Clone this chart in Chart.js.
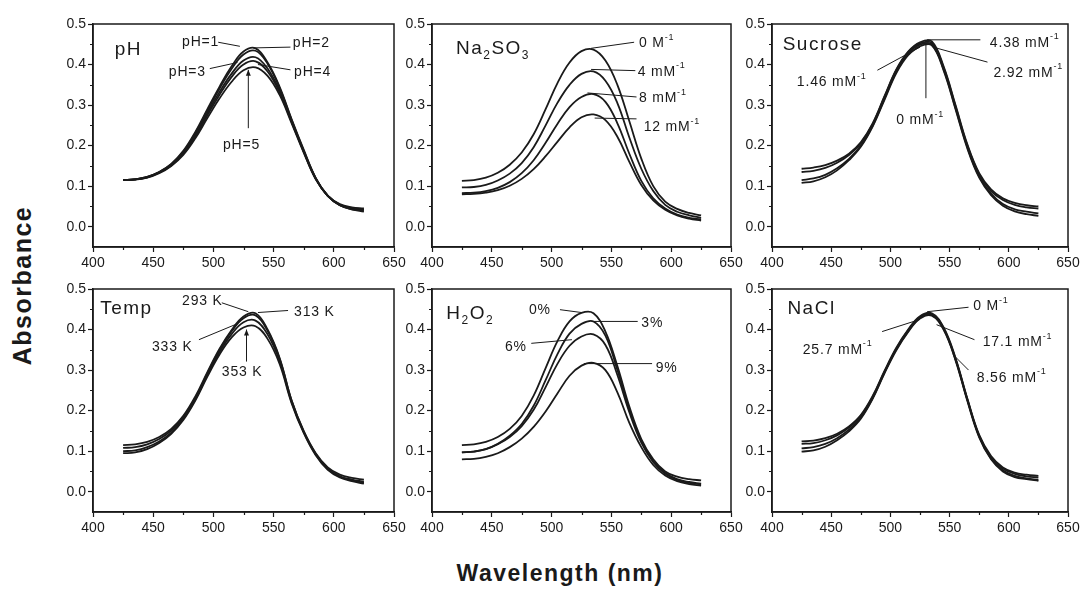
<!DOCTYPE html>
<html>
<head>
<meta charset="utf-8">
<title>Absorbance spectra</title>
<script src="https://cdn.jsdelivr.net/npm/chart.js@4.4.1/dist/chart.umd.min.js"></script>
<style>
  html, body { margin: 0; padding: 0; background: #fff; }
  #wrap { position: relative; width: 1085px; height: 589px; overflow: hidden; font-family: "Liberation Sans", Arial, sans-serif; color: #1a1a1a; }
  canvas { position: absolute; }
  .axis-title { position: absolute; font-weight: bold; white-space: nowrap; letter-spacing: 1.5px; }
  #ytitle { font-size: 25px; line-height: 25px; width: 200px; text-align: center; left: -78px; top: 272.5px; transform: rotate(-90deg); }
  #xtitle { font-size: 23px; line-height: 23px; left: 560px; top: 562px; transform: translateX(-50%); }
</style>
</head>
<body>
<div id="wrap">
  <div id="ytitle" class="axis-title">Absorbance</div>
  <div id="xtitle" class="axis-title">Wavelength (nm)</div>
</div>
<script>
// shared axis
const wavelengths = [425, 435, 445, 455, 465, 475, 485, 495, 505, 515, 525, 535, 545, 555, 565, 575, 585, 595, 605, 615, 625]
const xTickLabels = [400, 450, 500, 550, 600, 650]
const yTickLabels = [0.0, 0.1, 0.2, 0.3, 0.4, 0.5]

// pH
const pH1 = [.115, .117, .123, .135, .155, .187, .234, .290, .345, .395, .432, .440, .405, .345, .265, .190, .120, .076, .053, .043, .037]
const pH2 = [.115, .117, .123, .135, .154, .185, .231, .286, .340, .389, .425, .434, .402, .342, .263, .188, .120, .076, .053, .043, .040]
const pH3 = [.115, .117, .122, .134, .152, .182, .226, .280, .332, .377, .410, .418, .390, .335, .260, .186, .119, .076, .054, .045, .042]
const pH4 = [.115, .117, .122, .133, .151, .180, .222, .275, .325, .369, .400, .408, .383, .331, .258, .185, .118, .076, .054, .046, .043]
const pH5 = [.115, .116, .121, .132, .150, .177, .218, .268, .316, .357, .386, .393, .372, .325, .255, .183, .117, .077, .056, .048, .045]

// Na2SO3
const na0 = [.113, .115, .121, .133, .153, .183, .228, .290, .355, .405, .433, .437, .410, .350, .260, .168, .100, .062, .044, .034, .028]
const na4 = [.097, .098, .103, .114, .131, .157, .196, .250, .306, .350, .377, .383, .360, .305, .220, .143, .088, .054, .037, .028, .022]
const na8 = [.083, .084, .088, .096, .110, .132, .164, .207, .254, .295, .320, .327, .308, .255, .180, .113, .070, .045, .030, .022, .018]
const na12 = [.080, .081, .084, .090, .101, .118, .142, .174, .210, .245, .270, .277, .263, .222, .160, .103, .065, .042, .028, .020, .015]

// sucrose
const suc438 = [.143, .146, .152, .163, .180, .208, .255, .322, .388, .432, .455, .457, .395, .300, .203, .132, .092, .070, .059, .053, .050]
const suc292 = [.135, .138, .145, .158, .177, .206, .253, .320, .386, .430, .452, .453, .392, .297, .200, .129, .088, .066, .054, .048, .045]
const suc146 = [.115, .119, .128, .144, .167, .200, .249, .316, .382, .427, .449, .450, .388, .293, .196, .124, .082, .056, .043, .037, .033]
const suc0 = [.108, .112, .122, .139, .164, .197, .247, .313, .379, .423, .445, .447, .385, .290, .193, .121, .078, .052, .038, .031, .027]

// temperature
const t293 = [.115, .117, .123, .135, .155, .187, .235, .295, .352, .398, .432, .440, .400, .330, .225, .150, .095, .060, .042, .034, .030]
const t313 = [.108, .110, .117, .130, .151, .184, .232, .292, .349, .395, .428, .435, .397, .328, .224, .148, .093, .057, .038, .030, .025]
const t333 = [.100, .102, .110, .124, .146, .180, .228, .288, .344, .388, .418, .422, .388, .322, .221, .147, .092, .056, .037, .028, .022]
const t353 = [.095, .097, .105, .120, .143, .177, .225, .284, .338, .380, .405, .408, .377, .315, .218, .145, .090, .054, .035, .026, .020]

// H2O2
const h0 = [.115, .117, .123, .135, .155, .187, .237, .305, .372, .420, .441, .440, .395, .310, .210, .130, .080, .050, .037, .031, .028]
const h3 = [.097, .099, .105, .118, .138, .167, .212, .275, .340, .390, .414, .420, .385, .300, .203, .126, .076, .046, .031, .024, .020]
const h6 = [.097, .099, .105, .117, .135, .162, .202, .258, .316, .360, .383, .388, .362, .288, .196, .121, .073, .044, .029, .022, .018]
const h9 = [.080, .081, .086, .095, .110, .131, .160, .198, .243, .286, .311, .318, .300, .245, .170, .110, .066, .040, .026, .019, .015]

// NaCl
const nacl0 = [.124, .126, .132, .143, .161, .189, .236, .298, .355, .400, .433, .440, .405, .330, .230, .140, .088, .060, .047, .042, .039]
const nacl856 = [.118, .120, .127, .139, .158, .187, .234, .296, .353, .398, .431, .438, .403, .328, .228, .138, .085, .057, .044, .038, .035]
const nacl171 = [.107, .110, .118, .132, .153, .183, .231, .294, .351, .396, .429, .436, .401, .326, .226, .136, .082, .053, .039, .033, .029]
const nacl257 = [.099, .102, .111, .127, .149, .180, .229, .292, .349, .394, .427, .434, .399, .324, .224, .134, .080, .050, .036, .031, .027]

const ink = '#1a1a1a'
const family = '"Liberation Sans", Arial, sans-serif'

const mM = (num, unit) => [{t: num + ' ' + unit}, {t: '-1', s: 'sup'}]

// panel placement (plot area in page pixels) and label positions (data units)
const panels = [
    {
        box: [93, 24, 394, 247],
        title: [{t: 'pH'}], titleAt: [418, 0.437],
        curves: [pH1, pH2, pH3, pH4, pH5],
        notes: [
            {parts: [{t: 'pH=1'}], at: [474, 0.456], line: [504, 0.455, 522, 0.445]},
            {parts: [{t: 'pH=2'}], at: [566, 0.452], line: [533, 0.441, 564, 0.443]},
            {parts: [{t: 'pH=3'}], at: [463, 0.382], line: [497, 0.39, 520, 0.405]},
            {parts: [{t: 'pH=4'}], at: [567, 0.382], line: [537, 0.40, 564, 0.387]},
            {parts: [{t: 'pH=5'}], at: [508, 0.20], line: [529, 0.243, 529, 0.387], arrow: true}
        ]
    },
    {
        box: [432, 24, 731, 247],
        title: [{t: 'Na'}, {t: '2', s: 'sub'}, {t: 'SO'}, {t: '3', s: 'sub'}], titleAt: [420, 0.44],
        curves: [na0, na4, na8, na12],
        notes: [
            {parts: mM('0', 'M'), at: [573, 0.452], line: [533, 0.44, 569, 0.455]},
            {parts: mM('4', 'mM'), at: [572, 0.382], line: [533, 0.388, 570, 0.385]},
            {parts: mM('8', 'mM'), at: [573, 0.317], line: [530, 0.33, 571, 0.32]},
            {parts: mM('12', 'mM'), at: [577, 0.245], line: [536, 0.268, 571, 0.266]}
        ]
    },
    {
        box: [772, 24, 1068, 247],
        title: [{t: 'Sucrose'}], titleAt: [409, 0.449],
        curves: [suc438, suc292, suc146, suc0],
        notes: [
            {parts: mM('4.38', 'mM'), at: [584, 0.454], line: [531, 0.461, 576, 0.461]},
            {parts: mM('2.92', 'mM'), at: [587, 0.38], line: [536, 0.443, 582, 0.406]},
            {parts: mM('1.46', 'mM'), at: [421, 0.357], line: [489, 0.386, 525, 0.443]},
            {parts: mM('0', 'mM'), at: [505, 0.262], line: [530, 0.317, 530, 0.46]}
        ]
    },
    {
        box: [93, 289, 394, 512],
        title: [{t: 'Temp'}], titleAt: [406, 0.452],
        curves: [t293, t313, t333, t353],
        notes: [
            {parts: [{t: '293 K'}], at: [474, 0.469], line: [507, 0.466, 529, 0.444]},
            {parts: [{t: '313 K'}], at: [567, 0.444], line: [537, 0.442, 562, 0.447]},
            {parts: [{t: '333 K'}], at: [449, 0.356], line: [488, 0.375, 518, 0.412]},
            {parts: [{t: '353 K'}], at: [507, 0.294], line: [527.5, 0.321, 527.5, 0.40], arrow: true}
        ]
    },
    {
        box: [432, 289, 731, 512],
        title: [{t: 'H'}, {t: '2', s: 'sub'}, {t: 'O'}, {t: '2', s: 'sub'}], titleAt: [412, 0.44],
        curves: [h0, h3, h6, h9],
        notes: [
            {parts: [{t: '0%'}], at: [481, 0.449], line: [507, 0.449, 525, 0.442]},
            {parts: [{t: '3%'}], at: [575, 0.417], line: [535, 0.42, 572, 0.42]},
            {parts: [{t: '6%'}], at: [461, 0.356], line: [483, 0.366, 517, 0.375]},
            {parts: [{t: '9%'}], at: [587, 0.306], line: [527, 0.316, 584, 0.316]}
        ]
    },
    {
        box: [772, 289, 1068, 512],
        title: [{t: 'NaCl'}], titleAt: [413, 0.452],
        curves: [nacl0, nacl856, nacl171, nacl257],
        notes: [
            {parts: mM('0', 'M'), at: [570, 0.457], line: [531, 0.444, 566, 0.455]},
            {parts: mM('17.1', 'mM'), at: [578, 0.368], line: [539, 0.412, 571, 0.375]},
            {parts: mM('8.56', 'mM'), at: [573, 0.281], line: [553, 0.338, 566, 0.30]},
            {parts: mM('25.7', 'mM'), at: [426, 0.35], line: [493, 0.395, 525, 0.425]}
        ]
    }
]

const isMajorX = v => xTickLabels.includes(Math.round(v))
const isMajorY = v => yTickLabels.some(t => Math.abs(t - v) < 1e-6)

function drawRich(ctx, parts, x, y, size, spacing) {
    let cx = x
    if ('letterSpacing' in ctx) ctx.letterSpacing = spacing
    parts.forEach(p => {
        const fs = p.s ? Math.round(size * 0.62) : size
        ctx.font = fs + 'px ' + family
        let dy = 0
        if (p.s === 'sub') dy = size * 0.38
        if (p.s === 'sup') dy = -size * 0.42
        ctx.fillText(p.t, cx, y + dy)
        cx += ctx.measureText(p.t).width
    })
    if ('letterSpacing' in ctx) ctx.letterSpacing = '0px'
}

function framePlugin(panel, n) {
    return {
        id: 'frame' + n,
        afterDraw(chart) {
            const {ctx, chartArea: a, scales: {x, y}} = chart
            ctx.save()
            ctx.strokeStyle = ink
            ctx.fillStyle = ink
            ctx.lineWidth = 1.5
            ctx.strokeRect(a.left, a.top, a.right - a.left, a.bottom - a.top)

            // minor ticks
            ctx.lineWidth = 1.2
            ctx.beginPath()
            x.ticks.forEach(t => {
                if (isMajorX(t.value)) return
                const px = Math.round(x.getPixelForValue(t.value)) + 0.5
                ctx.moveTo(px, a.bottom)
                ctx.lineTo(px, a.bottom + 3)
            })
            y.ticks.forEach(t => {
                if (isMajorY(t.value) || t.value < 0) return
                const py = Math.round(y.getPixelForValue(t.value)) + 0.5
                ctx.moveTo(a.left, py)
                ctx.lineTo(a.left - 3, py)
            })
            ctx.stroke()

            ctx.textAlign = 'left'
            ctx.textBaseline = 'middle'
            drawRich(ctx, panel.title, x.getPixelForValue(panel.titleAt[0]), y.getPixelForValue(panel.titleAt[1]), 19, '1.5px')

            // leader lines and labels
            ctx.lineWidth = 1
            panel.notes.forEach(note => {
                const [x1, y1, x2, y2] = note.line
                const p1 = [x.getPixelForValue(x1), y.getPixelForValue(y1)]
                const p2 = [x.getPixelForValue(x2), y.getPixelForValue(y2)]
                ctx.beginPath()
                ctx.moveTo(p1[0], p1[1])
                ctx.lineTo(p2[0], p2[1])
                ctx.stroke()
                if (note.arrow) {
                    ctx.beginPath()
                    ctx.moveTo(p2[0], p2[1])
                    ctx.lineTo(p2[0] - 2.5, p2[1] + 6)
                    ctx.lineTo(p2[0] + 2.5, p2[1] + 6)
                    ctx.closePath()
                    ctx.fill()
                }
                drawRich(ctx, note.parts, x.getPixelForValue(note.at[0]), y.getPixelForValue(note.at[1]), 14, '0.8px')
            })
            ctx.restore()
        }
    }
}

const padL = 50, padT = 12, padR = 16, padB = 28
const wrap = document.getElementById('wrap')

panels.forEach((panel, n) => {
    const [L, T, R, B] = panel.box
    const canvas = document.createElement('canvas')
    canvas.width = R - L + padL + padR
    canvas.height = B - T + padT + padB
    canvas.style.left = (L - padL) + 'px'
    canvas.style.top = (T - padT) + 'px'
    wrap.appendChild(canvas)

    new Chart(canvas, {
        type: 'line',
        data: {
            datasets: panel.curves.map(curve => ({
                data: curve.map((v, i) => ({x: wavelengths[i], y: v})),
                borderColor: ink,
                borderWidth: 1.8,
                pointRadius: 0,
                fill: false,
                tension: 0.4
            }))
        },
        options: {
            responsive: false,
            animation: false,
            devicePixelRatio: 1,
            layout: {padding: {left: 0, top: padT, right: padR, bottom: 0}},
            plugins: {legend: {display: false}, tooltip: {enabled: false}},
            scales: {
                x: {
                    type: 'linear',
                    min: 400,
                    max: 650,
                    ticks: {
                        stepSize: 25,
                        autoSkip: false,
                        maxRotation: 0,
                        padding: 3,
                        color: ink,
                        font: {size: 14, family: family},
                        callback: v => isMajorX(v) ? String(v) : ''
                    },
                    grid: {
                        drawOnChartArea: false,
                        tickLength: 5,
                        tickWidth: 1.2,
                        tickColor: c => (c.tick && isMajorX(c.tick.value)) ? ink : 'rgba(0,0,0,0)'
                    },
                    border: {display: true, color: ink, width: 1.5},
                    afterFit: s => { s.height = padB; s.paddingLeft = 0; s.paddingRight = 0 }
                },
                y: {
                    min: -0.05,
                    max: 0.5,
                    ticks: {
                        stepSize: 0.05,
                        autoSkip: false,
                        padding: 2,
                        color: ink,
                        font: {size: 14, family: family},
                        callback: v => (isMajorY(v) && v >= 0) ? v.toFixed(1) : ''
                    },
                    grid: {
                        drawOnChartArea: false,
                        tickLength: 5,
                        tickWidth: 1.2,
                        tickColor: c => (c.tick && isMajorY(c.tick.value)) ? ink : 'rgba(0,0,0,0)'
                    },
                    border: {display: true, color: ink, width: 1.5},
                    afterFit: s => { s.width = padL; s.paddingTop = 0; s.paddingBottom = 0 }
                }
            }
        },
        plugins: [framePlugin(panel, n)]
    })
})
</script>
</body>
</html>
